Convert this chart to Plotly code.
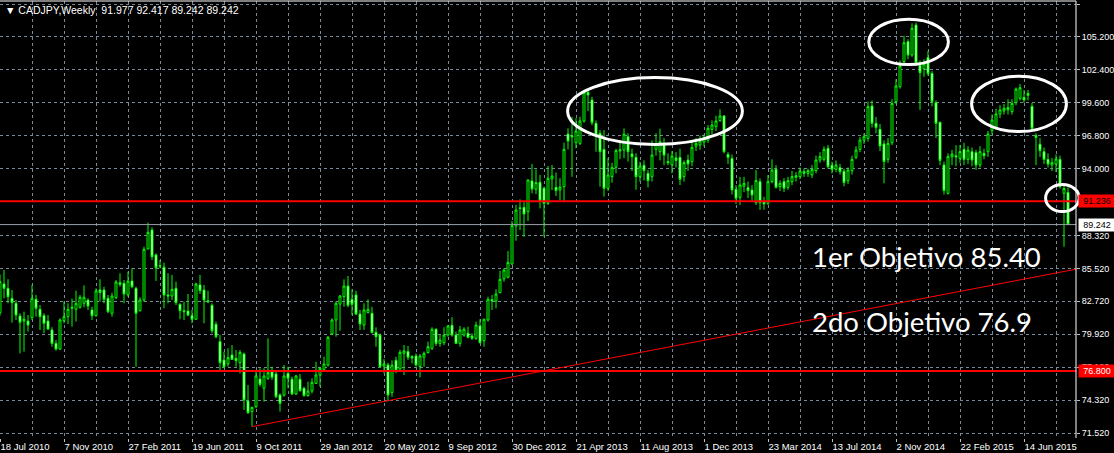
import pandas as pd
import plotly.graph_objects as go

# weekly CADJPY candles, first bar = week of 18 Jul 2010
open_ = [81.75, 84.19, 83.82, 82.97, 82.55, 81.47, 81.04, 81.04, 81.33, 82.89,
         82.04, 81.50, 81.04, 80.28, 79.14, 78.66, 81.07, 81.41, 82.12, 82.04,
         82.21, 82.55, 82.83, 81.98, 81.50, 83.68, 83.68, 82.97, 81.70, 83.03,
         84.30, 84.25, 83.26, 84.44, 83.82, 81.92, 82.83, 87.17, 88.78, 86.66,
         85.76, 85.61, 83.26, 83.17, 83.82, 82.46, 81.92, 81.89, 81.50, 81.19,
         84.11, 83.68, 82.77, 82.38, 80.76, 79.29, 77.73, 77.39, 78.16, 77.87,
         77.50, 78.24, 74.24, 73.34, 73.76, 76.11, 75.32, 76.17, 76.73, 76.54,
         74.75, 74.75, 76.59, 76.09, 74.84, 76.09, 75.32, 74.70, 75.09, 75.74,
         76.45, 76.93, 77.30, 79.94, 81.13, 82.49, 83.11, 84.02, 82.89, 83.26,
         81.64, 80.70, 81.75, 81.70, 80.08, 79.85, 77.20, 77.30, 74.95, 77.70,
         76.96, 78.30, 78.44, 78.01, 78.07, 77.16, 77.96, 78.35, 78.72, 80.34,
         79.14, 79.20, 79.85, 80.68, 79.85, 79.14, 79.85, 80.00, 79.77, 79.57,
         80.62, 79.37, 81.13, 82.86, 82.74, 83.45, 84.62, 84.76, 85.89, 89.12,
         90.60, 90.71, 90.34, 92.95, 92.24, 92.84, 92.33, 91.05, 93.12, 92.41,
         92.18, 92.47, 96.94, 96.80, 96.21, 96.15, 98.05, 100.49, 99.84, 97.85,
         97.00, 95.64, 92.33, 93.32, 94.11, 95.50, 95.58, 96.72, 95.25, 94.96,
         93.32, 94.28, 93.60, 93.32, 95.64, 95.44, 96.15, 94.60, 94.31, 94.90,
         94.96, 93.32, 94.73, 94.60, 95.90, 96.01, 96.26, 96.43, 97.34, 97.57,
         98.08, 98.48, 95.20, 94.87, 92.24, 91.56, 92.50, 92.38, 92.18, 91.11,
         92.89, 91.19, 91.05, 92.89, 93.94, 92.47, 92.89, 92.41, 92.89, 93.26,
         93.32, 93.75, 93.60, 93.46, 93.83, 94.73, 94.79, 95.73, 94.28, 93.94,
         94.08, 93.77, 92.98, 93.83, 94.96, 95.64, 96.43, 96.58, 99.33, 97.85,
         97.34, 96.10, 94.79, 96.20, 99.70, 100.97, 103.10, 104.80, 103.66, 106.21,
         102.80, 102.48, 103.44, 102.10, 99.60, 97.94, 94.31, 91.90, 95.00, 95.10,
         94.87, 95.64, 94.79, 95.44, 95.36, 94.31, 95.30, 95.44, 97.23, 97.51,
         98.65, 98.90, 99.00, 98.85, 99.61, 99.98, 100.06, 100.40, 99.30, 96.80,
         96.07, 95.44, 94.79, 94.31, 94.39, 94.79, 91.90, 91.977]
high = [85.00, 85.38, 84.60, 83.68, 82.83, 81.70, 81.84, 81.55, 84.11, 83.26,
        82.40, 81.70, 81.55, 80.51, 79.43, 81.27, 82.69, 82.55, 82.94, 83.62,
        83.26, 84.08, 82.97, 82.26, 83.82, 84.59, 83.96, 83.26, 83.45, 84.53,
        85.10, 84.53, 85.24, 85.52, 83.96, 83.06, 87.37, 89.41, 89.01, 86.80,
        86.23, 86.00, 85.10, 84.96, 84.39, 82.55, 82.69, 83.34, 81.98, 84.30,
        84.96, 84.11, 83.62, 82.55, 80.99, 79.85, 78.44, 78.72, 79.00, 78.58,
        78.58, 78.35, 75.60, 73.76, 76.73, 77.02, 77.02, 79.57, 77.16, 76.88,
        74.89, 77.30, 77.16, 76.31, 76.45, 76.54, 75.46, 75.88, 76.17, 77.58,
        77.16, 78.01, 79.77, 81.27, 82.69, 83.26, 84.59, 84.87, 83.74, 83.62,
        81.98, 82.55, 82.89, 82.26, 80.51, 79.99, 77.80, 77.50, 77.70, 78.00,
        78.60, 79.00, 78.92, 78.15, 78.29, 78.24, 78.44, 79.29, 80.51, 80.42,
        79.85, 80.51, 80.70, 81.36, 80.14, 80.62, 80.51, 80.56, 80.00, 80.99,
        81.19, 81.24, 83.11, 83.25, 83.74, 85.32, 85.52, 86.99, 89.55, 90.91,
        91.39, 91.19, 93.09, 94.40, 93.94, 93.46, 92.47, 94.22, 94.31, 93.66,
        93.18, 96.21, 97.43, 98.40, 98.28, 98.42, 100.69, 100.74, 100.10, 98.10,
        97.28, 97.28, 94.90, 94.50, 95.70, 96.40, 97.43, 97.00, 95.70, 95.30,
        94.60, 94.70, 93.90, 96.40, 97.00, 97.40, 96.60, 95.30, 95.50, 95.40,
        95.70, 94.70, 95.20, 96.40, 96.60, 96.80, 96.90, 97.70, 98.10, 98.50,
        99.04, 98.56, 95.40, 95.20, 92.60, 93.30, 93.30, 92.90, 92.60, 93.88,
        93.17, 91.60, 93.46, 94.79, 94.30, 93.00, 93.20, 93.30, 93.80, 93.70,
        94.10, 94.00, 94.00, 94.30, 95.10, 95.40, 95.90, 96.00, 94.60, 94.70,
        94.40, 94.00, 94.10, 95.10, 95.90, 96.70, 97.00, 99.70, 99.80, 98.40,
        97.80, 96.40, 96.60, 99.90, 101.60, 103.20, 105.30, 105.00, 106.36, 106.41,
        103.20, 103.30, 104.00, 102.30, 99.80, 98.00, 94.60, 95.30, 95.60, 96.00,
        96.00, 96.20, 95.90, 95.80, 95.60, 95.90, 95.70, 97.20, 98.60, 99.10,
        99.40, 99.50, 99.90, 99.90, 100.90, 101.20, 100.70, 100.70, 99.60, 97.00,
        96.60, 95.80, 95.30, 94.90, 95.20, 95.10, 92.60, 92.417]
low = [81.50, 82.97, 82.55, 80.90, 81.13, 78.29, 78.44, 80.14, 81.13, 81.41,
       80.28, 80.00, 80.28, 78.86, 78.52, 78.58, 80.85, 80.79, 80.56, 80.99,
       82.10, 82.21, 81.98, 81.13, 81.41, 82.69, 82.55, 81.70, 81.41, 82.89,
       83.96, 82.55, 83.11, 83.82, 77.16, 81.84, 82.69, 87.14, 86.23, 84.45,
       85.52, 82.12, 82.55, 82.83, 82.40, 81.19, 81.13, 81.45, 80.85, 81.13,
       83.34, 80.85, 82.60, 80.00, 79.57, 76.73, 77.02, 77.16, 77.73, 77.16,
       76.59, 73.48, 73.14, 72.06, 73.62, 75.46, 74.18, 76.03, 76.03, 74.47,
       73.34, 74.61, 75.32, 74.75, 74.75, 75.03, 74.61, 74.61, 74.89, 75.69,
       75.46, 76.88, 77.16, 79.85, 79.71, 80.22, 82.26, 82.21, 81.55, 81.55,
       80.28, 80.28, 81.70, 80.00, 78.86, 77.10, 76.60, 74.20, 74.60, 76.60,
       76.73, 76.45, 77.73, 77.44, 77.16, 76.25, 77.16, 78.29, 78.58, 78.92,
       78.86, 79.00, 79.71, 79.71, 79.09, 78.86, 79.71, 79.57, 79.43, 79.43,
       79.14, 78.86, 80.99, 81.98, 82.12, 83.40, 84.39, 84.67, 85.81, 87.87,
       88.78, 88.21, 89.55, 91.90, 91.84, 90.62, 88.21, 90.91, 92.18, 91.67,
       91.28, 91.19, 95.64, 93.30, 95.73, 96.01, 97.90, 98.90, 97.70, 95.44,
       92.47, 91.62, 92.10, 92.80, 93.60, 94.80, 94.88, 94.60, 93.80, 92.20,
       92.90, 93.00, 92.40, 92.90, 95.10, 94.70, 94.30, 94.30, 93.60, 94.10,
       92.60, 92.90, 93.80, 94.20, 95.50, 95.60, 95.90, 96.20, 96.90, 97.20,
       97.99, 95.30, 94.40, 91.80, 91.00, 90.90, 92.00, 91.50, 91.20, 90.91,
       90.50, 90.50, 90.91, 92.75, 92.30, 92.10, 92.00, 92.20, 92.60, 92.90,
       93.10, 93.30, 93.30, 93.20, 93.60, 94.50, 94.60, 94.00, 93.60, 93.70,
       93.50, 92.50, 92.70, 93.50, 94.80, 95.40, 96.10, 96.30, 97.50, 97.00,
       95.50, 92.75, 94.50, 96.00, 99.50, 100.80, 102.90, 103.30, 103.50, 102.80,
       98.99, 101.80, 101.90, 99.30, 96.60, 94.30, 91.80, 91.80, 94.30, 94.20,
       94.50, 94.30, 94.40, 94.20, 93.90, 94.10, 94.80, 95.00, 96.90, 97.30,
       98.30, 98.60, 98.60, 98.60, 99.40, 99.80, 99.60, 99.80, 97.20, 94.30,
       95.00, 94.40, 94.10, 93.80, 93.70, 92.30, 87.36, 89.242]
close = [84.39, 83.82, 83.11, 82.60, 81.55, 80.93, 81.21, 80.70, 82.97, 82.12,
         81.41, 80.85, 80.36, 79.14, 78.66, 81.13, 81.41, 82.04, 82.21, 82.55,
         83.06, 83.06, 82.32, 81.50, 83.60, 83.46, 82.89, 81.84, 83.17, 84.36,
         84.16, 83.34, 84.44, 83.96, 81.70, 82.83, 87.14, 88.58, 86.51, 85.58,
         85.72, 83.26, 83.17, 83.74, 82.60, 81.92, 81.84, 81.55, 81.19, 84.19,
         83.62, 82.83, 82.66, 80.22, 79.71, 77.50, 77.16, 77.93, 77.78, 77.67,
         78.38, 74.33, 73.25, 73.70, 76.37, 75.66, 76.37, 76.65, 76.26, 74.61,
         74.04, 76.37, 76.17, 74.84, 76.37, 75.12, 74.70, 75.09, 75.83, 76.45,
         77.02, 77.39, 79.66, 81.13, 82.55, 83.17, 84.02, 82.38, 82.46, 81.64,
         80.79, 81.98, 82.04, 80.05, 79.71, 77.16, 77.40, 74.75, 77.30, 76.85,
         78.38, 78.50, 77.96, 77.90, 77.30, 78.07, 78.29, 78.86, 80.34, 79.14,
         79.43, 79.85, 80.62, 79.85, 79.14, 80.28, 80.34, 79.66, 79.57, 80.70,
         79.20, 81.19, 82.89, 82.75, 83.34, 84.59, 85.38, 86.03, 89.15, 90.48,
         90.65, 90.14, 93.03, 92.27, 92.81, 91.25, 91.05, 93.18, 93.37, 92.13,
         92.44, 95.64, 96.35, 96.70, 97.20, 98.05, 100.49, 100.26, 97.91, 96.86,
         95.44, 92.33, 93.46, 94.11, 95.53, 95.60, 96.94, 95.44, 95.01, 93.32,
         94.22, 93.83, 92.98, 95.16, 96.07, 96.29, 95.16, 94.50, 95.07, 94.70,
         93.09, 94.51, 94.40, 95.81, 96.15, 96.35, 96.66, 97.43, 97.71, 98.05,
         98.48, 95.44, 94.96, 92.19, 91.48, 92.61, 92.75, 92.13, 91.76, 92.98,
         91.11, 91.00, 92.89, 93.88, 92.41, 92.75, 92.33, 92.98, 93.32, 93.40,
         93.80, 93.60, 93.83, 93.94, 94.73, 95.02, 95.64, 94.17, 93.94, 94.31,
         93.75, 92.81, 93.88, 94.79, 95.58, 96.43, 96.72, 99.27, 97.85, 97.51,
         95.93, 94.60, 96.15, 99.55, 101.03, 102.73, 104.71, 103.66, 105.93, 103.01,
         102.16, 102.90, 102.10, 99.70, 97.85, 94.70, 92.13, 95.02, 95.24, 95.00,
         95.44, 94.79, 95.58, 94.73, 94.31, 95.44, 95.10, 96.95, 98.14, 98.65,
         98.99, 99.13, 99.20, 99.55, 100.77, 100.88, 99.84, 100.23, 97.43, 96.66,
         95.53, 94.79, 94.39, 94.51, 94.82, 92.47, 92.30, 89.242]

y_ticks = [71.52, 74.32, 77.12, 79.92, 82.72, 85.52, 88.32, 91.2, 94.0, 96.8,
           99.6, 102.4, 105.2, 108.0]
support_level = 91.236
target_level = 76.8
bid_price = 89.242

start = pd.Timestamp("2010-07-18")
weeks = pd.date_range(start, periods=len(close), freq="7D")


def wk(k):
    return start + pd.Timedelta(days=7 * k)


k_left, k_right = 0.0, 269.0
y_lo, y_hi = 71.095, 108.255


def dom(k, p):
    return (k - k_left) / (k_right - k_left), (p - y_lo) / (y_hi - y_lo)


lime = "#00ff00"
grid = "#778899"
axis_font = dict(family="Liberation Sans, Arial", size=9.5, color="#ffffff")
y_font = dict(family="Liberation Sans, Arial", size=9, color="#ffffff")
head_font = dict(family="Liberation Sans, Arial", size=10.5, color="#ffffff")

fig = go.Figure()
fig.add_trace(go.Candlestick(
    x=weeks, open=open_, high=high, low=low, close=close,
    increasing=dict(line=dict(color=lime, width=1), fillcolor="#000000"),
    decreasing=dict(line=dict(color=lime, width=1), fillcolor="#ffffff"),
    whiskerwidth=0, hoverinfo="skip", showlegend=False,
))

shapes = []
# horizontal levels and bid line
for lvl, col, w in [(support_level, "#ff0000", 2), (target_level, "#ff0000", 2), (bid_price, "#9aa0a8", 1)]:
    shapes.append(dict(type="line", xref="paper", x0=0, x1=1, yref="y", y0=lvl, y1=lvl,
                       line=dict(color=col, width=w), layer="above"))
# rising trendline
shapes.append(dict(type="line", xref="x", yref="y", x0=wk(63), y0=72.06, x1=wk(275), y1=85.84,
                   line=dict(color="#ff0000", width=1)))
# highlight ellipses (week index, price bounds)
ellipses = [(141.9, 185.6, 96.05, 101.75), (217.2, 237.1, 102.85, 106.7),
            (242.9, 266.6, 97.15, 101.85), (261.4, 269.8, 90.35, 92.65)]
for k0, k1, p0, p1 in ellipses:
    x0, y0 = dom(k0, p0)
    x1, y1 = dom(k1, p1)
    shapes.append(dict(type="circle", xref="x domain", yref="y domain", x0=x0, x1=x1, y0=y0, y1=y1,
                       line=dict(color="#ffffff", width=3)))
# chart frame (top and right)
shapes.append(dict(type="line", xref="paper", yref="paper", x0=0, x1=1, y0=1, y1=1,
                   line=dict(color="#ffffff", width=1)))
shapes.append(dict(type="line", xref="paper", yref="paper", x0=1, x1=1, y0=0, y1=1,
                   line=dict(color="#ffffff", width=1)))

big_font = dict(family="Lato, Open Sans", size=27.5, color="#ffffff")
annotations = [
    dict(xref="paper", yref="paper", x=0, y=1, xanchor="left", yanchor="top", xshift=3, yshift=-1,
         text="▼ CADJPY,Weekly&nbsp;&nbsp;91.977 92.417 89.242 89.242", showarrow=False, font=head_font),
    dict(xref="x", yref="y", x=wk(202.4), y=86.49, xanchor="left", yanchor="middle",
         text="1er Objetivo 85.40", showarrow=False, font=big_font),
    dict(xref="x", yref="y", x=wk(202.4), y=80.96, xanchor="left", yanchor="middle",
         text="2do Objetivo 76.9", showarrow=False, font=big_font),
]
for lvl, bg, fg in [(support_level, "#ff0000", "#000000"), (bid_price, "#ffffff", "#000000"),
                    (target_level, "#ff0000", "#ffffff")]:
    annotations.append(dict(xref="paper", yref="y", x=1, y=lvl, xanchor="left", yanchor="middle",
                            xshift=2, text=f"{lvl:.3f}", showarrow=False, bgcolor=bg,
                            borderpad=0, width=36, height=12, align="center",
                            font=dict(family=y_font["family"], size=9, color=fg)))

fig.update_layout(
    width=1114, height=453,
    margin=dict(l=0, r=38, t=1, b=15, autoexpand=False),
    paper_bgcolor="#000000", plot_bgcolor="#000000",
    shapes=shapes, annotations=annotations,
    xaxis=dict(
        type="date", range=[wk(k_left), wk(k_right)], rangeslider=dict(visible=False),
        tickvals=list(weeks[::16]), tickformat="%-d %b %Y", ticklabelposition="outside right",
        tickangle=0, automargin=False,
        ticks="outside", ticklen=3, tickcolor="#c0c0c0", tickfont=axis_font,
        showgrid=True, gridcolor=grid, griddash="3px,3px", gridwidth=1,
        minor=dict(tickvals=list(weeks[8::16]), showgrid=True, gridcolor=grid, griddash="3px,3px"),
        showline=False, zeroline=False, fixedrange=True,
    ),
    yaxis=dict(
        side="right", range=[y_lo, y_hi], tickvals=y_ticks, automargin=False,
        ticktext=[f"{v:.3f}" for v in y_ticks],
        ticks="outside", ticklen=3, tickcolor="#c0c0c0", tickfont=y_font,
        showgrid=True, gridcolor=grid, griddash="3px,3px", gridwidth=1,
        showline=False, zeroline=False, fixedrange=True,
    ),
)

fig.write_html("out.html", config={"displayModeBar": False},
               post_script="document.body.style.margin='0';")
